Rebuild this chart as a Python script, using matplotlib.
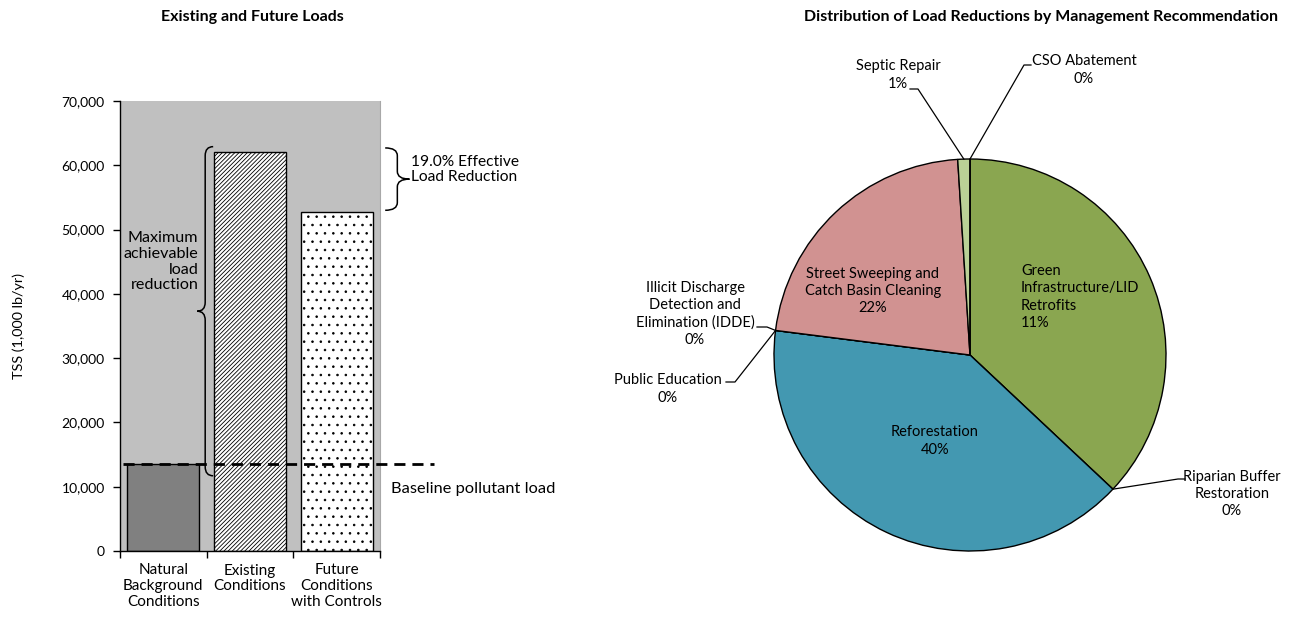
import matplotlib
matplotlib.use("Agg")
import matplotlib.pyplot as plt
import numpy as np
from matplotlib.path import Path
from matplotlib.patches import PathPatch

plt.rcParams['font.family'] = ['Lato', 'DejaVu Sans']
plt.rcParams['hatch.linewidth'] = 0.6

# ---------------- data ----------------
load_categories = ["Natural\nBackground\nConditions", "Existing\nConditions", "Future\nConditions\nwith Controls"]
load_values = [13500, 62000, 52800]
baseline_load = 13500
y_ticks = [0, 10000, 20000, 30000, 40000, 50000, 60000, 70000]
effective_reduction_text = "19.0% Effective\nLoad Reduction"
max_reduction_text = "Maximum\nachievable\nload\nreduction"

pie_names = ["Green\nInfrastructure/LID\nRetrofits", "Riparian Buffer\nRestoration", "Reforestation",
             "Public Education", "Illicit Discharge\nDetection and\nElimination (IDDE)",
             "Street Sweeping and\nCatch Basin Cleaning", "Septic Repair", "CSO Abatement"]
pie_values = [37, 0, 40, 0, 0, 22, 1, 0]
pie_pct_labels = ["11%", "0%", "40%", "0%", "0%", "22%", "1%", "0%"]
pie_colors = ["#8AA650", "#8AA650", "#4398B1", "#4398B1", "#D19291", "#D19291", "#BAD196", "#BAD196"]

# ---------------- figure ----------------
W, H = 1306, 618
fig = plt.figure(figsize=(W / 100, H / 100), dpi=100)

def fx(px):
    return px / W

def fy(py):
    return 1 - py / H

# ---- left bar chart ----
ax = fig.add_axes([fx(120), fy(551), fx(380) - fx(120), fy(101) - fy(551)])
ax.set_facecolor("#C0C0C0")
x = np.arange(len(load_values))
fills = ["#808080", "white", "white"]
hatches = [None, "////////", ".."]
for i in range(len(load_values)):
    ax.bar(x[i], load_values[i], width=0.83, color=fills[i], edgecolor="black",
           linewidth=1.0, hatch=hatches[i], zorder=2)
ax.set_xlim(-0.5, len(load_values) - 0.5)
ax.set_ylim(0, 70000)
ax.set_yticks(y_ticks)
ax.set_yticklabels([f"{v:,}" for v in y_ticks], fontsize=10)
ax.set_xticks(x)
ax.set_xticklabels(load_categories, fontsize=11, linespacing=1.15)
ax.tick_params(axis="x", which="major", length=0, pad=9)
ax.set_xticks(np.arange(-0.5, len(load_values), 1.0), minor=True)
ax.tick_params(axis="x", which="minor", length=5, width=1)
ax.tick_params(axis="y", length=5, width=1, pad=6)
ax.spines["top"].set_visible(False)
ax.spines["right"].set_color("#A8A8A8")
ax.spines["right"].set_linewidth(0.8)
ax.spines["left"].set_linewidth(1)
ax.spines["bottom"].set_linewidth(1)
ax.set_ylabel("TSS (1,000 lb/yr)", fontsize=10.4)
ax.yaxis.set_label_coords((25 - 120) / 260, 0.5)

# baseline dashed line extending beyond axes
ax.plot([-0.47, 3.12], [baseline_load, baseline_load], color="black", lw=2,
        ls=(0, (4, 2.5)), clip_on=False, zorder=4)
ax.text(2.63, baseline_load - 3900, "Baseline pollutant load", fontsize=11.8,
        va="center", ha="left", clip_on=False)


def brace(ax, x0, w, yt, yb, r, s):
    """s=-1: tip points left; s=+1: tip points right."""
    ym = (yt + yb) / 2
    verts = [(x0 - s * w, yt), (x0, yt), (x0, yt - r),
             (x0, ym + r),
             (x0, ym), (x0 + s * w, ym),
             (x0, ym), (x0, ym - r),
             (x0, yb + r),
             (x0, yb), (x0 - s * w, yb)]
    codes = [Path.MOVETO, Path.CURVE3, Path.CURVE3,
             Path.LINETO,
             Path.CURVE3, Path.CURVE3,
             Path.CURVE3, Path.CURVE3,
             Path.LINETO,
             Path.CURVE3, Path.CURVE3]
    p = PathPatch(Path(verts, codes), fill=False, lw=1.1, edgecolor="black",
                  clip_on=False, zorder=5)
    ax.add_patch(p)
    return ym

# left brace (maximum achievable reduction)
ym = brace(ax, 0.483, 0.092, load_values[1] + 900, baseline_load - 1800, 1400, -1)
ax.text(0.405, ym + 7700, max_reduction_text, ha="right", va="center", fontsize=11.6,
        linespacing=1.15, zorder=6)
# right brace (effective reduction)
ym2 = brace(ax, 2.70, 0.14, load_values[1] + 700, load_values[2] + 200, 1200, 1)
ax.text(2.86, ym2 + 1450, effective_reduction_text, ha="left", va="center", fontsize=11.2,
        linespacing=1.1, clip_on=False)

fig.text(fx(252), fy(17), "Existing and Future Loads", ha="center", va="center",
         fontsize=11.5, fontweight="bold")

# ---- right pie chart ----
R = 196
cx, cy = 970, 355
pax = fig.add_axes([fx(cx - R), fy(cy + R), fx(2 * R), fy(0) - fy(2 * R)])
wedges, _ = pax.pie(pie_values, colors=pie_colors, startangle=90, counterclock=False,
                    wedgeprops=dict(edgecolor="black", linewidth=1.0))
pax.set_xlim(-1, 1)
pax.set_ylim(-1, 1)
pax.set_aspect("auto")
pax.axis("off")


def d(px, py):
    return ((px - cx) / R, (cy - py) / R)


def mid_point(wd):
    a = np.deg2rad((wd.theta1 + wd.theta2) / 2)
    return np.cos(a), np.sin(a)

# inside labels
inside = {
    0: (d(1021, 297), "left"),
    2: (d(935, 441), "center"),
    5: (d(873, 291), "center"),
}
for i, ((tx, ty), ha) in inside.items():
    pax.text(tx, ty, pie_names[i] + "\n" + pie_pct_labels[i], ha=ha, va="center",
             fontsize=10.5, linespacing=1.3)

# outside labels: text pos, leader start, elbow
outside = {
    6: (d(898, 75), d(910, 89), d(918, 89)),
    7: (d(1084, 70), d(1031, 65), d(1024, 65)),
    4: (d(695, 314), d(757, 327), d(767, 327)),
    3: (d(668, 389), d(726, 382), d(735, 382)),
    1: (d(1232, 494), d(1185, 479), d(1178, 479)),
}
for i, ((tx, ty), p0, p1) in outside.items():
    pax.text(tx, ty, pie_names[i] + "\n" + pie_pct_labels[i], ha="center", va="center",
             fontsize=10.5, linespacing=1.3, clip_on=False)
    ex, ey = mid_point(wedges[i])
    pax.plot([p0[0], p1[0], ex], [p0[1], p1[1], ey], color="black", lw=0.9,
             clip_on=False, zorder=5)

fig.text(fx(1041), fy(17), "Distribution of Load Reductions by Management Recommendation",
         ha="center", va="center", fontsize=11.5, fontweight="bold")

fig.savefig("out.png", dpi=100)
